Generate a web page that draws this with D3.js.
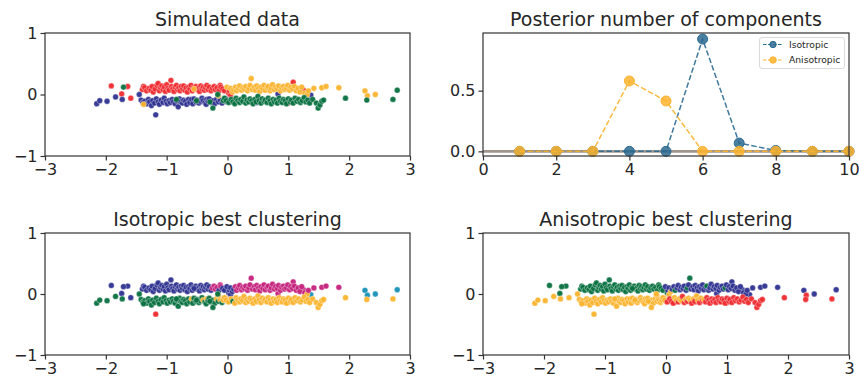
<!DOCTYPE html>
<html><head><meta charset="utf-8">
<script src="https://cdn.jsdelivr.net/npm/d3@7"></script>
<style>body{margin:0;background:#fff} text{font-family:"DejaVu Sans",sans-serif}</style>
</head><body><svg id="c" width="859" height="383"></svg>
<script>
// ---------- DATA ----------
// each point: [x, y, isotropic cluster, anisotropic cluster]
const redPts = [
 [-1.91,0.14,"b","g"],[-1.64,0.13,"b","g"],[-1.74,0.01,"b","g"],[-1.59,-0.06,"b","o"],
 [-1.40,0.08,"b","g"],[-1.38,0.13,"b","g"],[-1.36,0.11,"b","g"],[-1.33,0.06,"b","g"],[-1.29,0.10,"b","g"],
 [-1.26,0.07,"b","g"],[-1.24,0.13,"b","g"],[-1.22,0.04,"b","g"],[-1.19,0.09,"b","g"],[-1.16,0.15,"b","g"],
 [-1.14,0.18,"b","g"],[-1.12,0.06,"b","g"],[-1.10,0.11,"b","g"],[-1.08,0.14,"b","g"],[-1.06,0.08,"b","g"],
 [-1.04,0.12,"b","g"],[-1.02,0.05,"b","g"],[-1.00,0.16,"b","g"],[-0.98,0.10,"b","g"],[-0.96,0.07,"b","g"],
 [-0.93,0.23,"b","g"],[-0.92,0.13,"b","g"],[-0.90,0.09,"b","g"],[-0.88,0.05,"b","g"],[-0.86,0.12,"b","g"],
 [-0.84,0.15,"b","g"],[-0.82,0.08,"b","g"],[-0.80,0.11,"b","g"],[-0.78,0.06,"b","g"],[-0.76,0.13,"b","g"],
 [-0.74,0.09,"b","g"],[-0.72,0.14,"b","g"],[-0.70,0.07,"b","g"],[-0.68,0.11,"b","g"],[-0.66,0.04,"b","g"],
 [-0.64,0.12,"b","g"],[-0.62,0.09,"b","g"],[-0.60,0.15,"b","g"],[-0.58,0.06,"b","g"],[-0.56,0.11,"b","g"],
 [-0.52,0.13,"b","g"],[-0.50,0.08,"b","g"],[-0.48,0.10,"b","g"],[-0.46,0.05,"b","g"],[-0.44,0.14,"b","g"],
 [-0.42,0.09,"b","g"],[-0.40,0.12,"b","g"],[-0.38,0.07,"b","g"],[-0.36,0.11,"b","g"],[-0.34,0.15,"b","g"],
 [-0.32,0.08,"b","g"],[-0.30,0.12,"b","g"],[-0.27,0.06,"b","g"],[-0.25,0.10,"m","g"],[-0.22,0.13,"m","g"],
 [-0.20,0.08,"m","g"],[-0.17,0.11,"m","g"],[-0.14,0.06,"b","g"],[-0.12,0.15,"m","g"],[-0.11,0.12,"m","g"],
 [-0.08,0.09,"b","g"],[-0.05,0.06,"b","g"],[0.02,0.02,"b","g"],[0.03,0.06,"b","b"],[0.05,-0.01,"b","o"],
 [1.08,0.20,"m","b"],[1.25,0.07,"m","b"],[1.00,-0.14,"o","r"]
];
const bluePts = [
 [-2.15,-0.15,"g","o"],[-2.10,-0.10,"g","o"],[-1.98,-0.11,"g","o"],[-1.84,-0.04,"g","o"],[-1.73,-0.08,"g","o"],
 [-1.45,0.00,"g","o"],[-1.18,-0.33,"r","o"],
 [-1.42,-0.09,"g","o"],[-1.39,-0.13,"g","o"],[-1.36,-0.11,"g","o"],[-1.33,-0.15,"g","o"],[-1.30,-0.08,"g","o"],
 [-1.28,-0.12,"g","o"],[-1.25,-0.18,"g","o"],[-1.23,-0.10,"g","o"],[-1.20,-0.14,"g","o"],[-1.17,-0.07,"g","o"],
 [-1.14,-0.12,"g","o"],[-1.12,-0.16,"g","o"],[-1.09,-0.09,"g","o"],[-1.06,-0.13,"g","o"],[-1.04,-0.06,"g","o"],
 [-1.01,-0.11,"g","o"],[-0.99,-0.15,"g","o"],[-0.96,-0.10,"g","o"],[-0.94,-0.13,"g","o"],[-0.91,-0.08,"g","o"],
 [-0.89,-0.12,"g","o"],[-0.86,-0.15,"g","o"],[-0.84,-0.10,"g","o"],[-0.81,-0.20,"g","o"],[-0.79,-0.07,"g","o"],
 [-0.77,-0.12,"g","o"],[-0.74,-0.14,"g","o"],[-0.72,-0.09,"g","o"],[-0.69,-0.11,"g","o"],[-0.67,-0.16,"g","o"],
 [-0.64,-0.08,"g","o"],[-0.62,-0.13,"g","o"],[-0.59,-0.08,"o","o"],[-0.57,-0.15,"g","o"],[-0.55,-0.07,"g","o"],
 [-0.52,-0.12,"g","o"],[-0.50,-0.09,"g","o"],[-0.47,-0.14,"g","o"],[-0.45,-0.11,"g","o"],[-0.42,-0.06,"g","o"],
 [-0.40,-0.10,"o","o"],[-0.37,-0.13,"g","o"],[-0.34,-0.08,"o","o"],[-0.35,-0.16,"g","o"],[-0.32,-0.11,"g","o"],
 [-0.30,-0.07,"g","o"],[-0.27,-0.13,"g","o"],[-0.24,-0.10,"g","o"],[-0.21,-0.15,"g","o"],[-0.18,-0.08,"o","o"],
 [-0.15,-0.12,"g","o"],[-0.12,-0.09,"o","o"],[-0.09,-0.14,"g","o"],[-0.06,-0.10,"o","o"],[-0.03,-0.07,"o","o"],
 [0.00,-0.12,"o","o"],[0.48,-0.13,"o","r"],[0.83,0.01,"m","b"],[1.37,-0.01,"c","b"]
];
const orangePts = [
 [-0.01,0.12,"b","b"],[0.05,0.10,"b","b"],[0.08,0.04,"b","o"],[0.10,0.08,"b","b"],[0.13,0.12,"m","b"],
 [0.15,0.06,"m","g"],[0.18,0.10,"m","b"],[0.20,0.14,"m","b"],[0.23,0.07,"m","b"],[0.25,0.11,"m","b"],
 [0.28,0.09,"m","b"],[0.30,0.13,"m","b"],[0.33,0.06,"m","b"],[0.35,0.10,"m","g"],[0.37,0.15,"m","b"],
 [0.39,0.26,"m","g"],[0.41,0.08,"m","b"],[0.44,0.12,"m","b"],[0.46,0.07,"m","b"],[0.48,0.14,"m","b"],
 [0.51,0.10,"m","b"],[0.53,0.05,"m","b"],[0.55,0.12,"m","b"],[0.58,0.09,"m","b"],[0.60,0.15,"m","b"],
 [0.62,0.07,"m","b"],[0.65,0.11,"m","b"],[0.67,0.13,"m","g"],[0.70,0.06,"m","b"],[0.72,0.10,"m","b"],
 [0.74,0.16,"m","b"],[0.77,0.08,"m","b"],[0.79,0.12,"m","b"],[0.82,0.09,"m","b"],[0.84,0.14,"m","b"],
 [0.87,0.06,"m","b"],[0.89,0.11,"m","b"],[0.92,0.13,"m","b"],[0.94,0.08,"m","b"],[0.97,0.10,"m","g"],
 [0.99,0.15,"m","b"],[1.02,0.07,"m","b"],[1.04,0.12,"m","b"],[1.07,0.09,"m","b"],[1.10,0.13,"m","b"],
 [1.13,0.06,"m","b"],[1.16,0.10,"m","b"],[1.19,0.04,"m","b"],[1.22,0.12,"m","b"],[1.27,0.02,"m","b"],
 [1.31,0.00,"o","b"],[1.33,0.06,"m","b"],[1.42,0.10,"m","b"],[1.55,0.11,"m","b"],[1.62,0.13,"m","b"],
 [1.83,0.11,"m","b"],[2.26,0.06,"c","b"],[2.30,-0.02,"c","r"],[2.43,0.00,"c","b"],
 [-0.55,0.09,"b","g"],[-1.38,-0.16,"g","o"],[-0.15,-0.02,"o","o"]
];
const greenPts = [
 [-1.71,0.12,"b","g"],[-0.84,-0.08,"g","o"],[-0.51,-0.10,"g","o"],[-0.29,-0.12,"g","o"],[-0.24,-0.22,"g","o"],
 [-0.16,0.00,"g","o"],[-0.07,-0.10,"o","o"],
 [-0.05,-0.06,"o","o"],[-0.02,-0.10,"o","o"],[0.02,-0.13,"o","r"],[0.06,-0.08,"o","r"],[0.09,-0.12,"g","r"],
 [0.12,-0.15,"o","r"],[0.14,-0.06,"o","o"],[0.17,-0.10,"o","o"],[0.20,-0.13,"o","r"],[0.22,-0.08,"o","o"],
 [0.25,-0.11,"o","o"],[0.27,-0.04,"o","r"],[0.30,-0.14,"o","r"],[0.32,-0.09,"o","o"],[0.35,-0.12,"o","r"],
 [0.37,-0.07,"o","o"],[0.40,-0.10,"o","o"],[0.42,-0.15,"o","r"],[0.45,-0.08,"o","o"],[0.47,-0.12,"o","r"],
 [0.50,-0.03,"o","o"],[0.52,-0.10,"o","o"],[0.55,-0.14,"o","r"],[0.57,-0.07,"o","o"],[0.60,-0.11,"o","r"],
 [0.62,-0.09,"o","o"],[0.65,-0.13,"o","r"],[0.67,-0.06,"o","r"],[0.70,-0.10,"o","r"],[0.72,-0.15,"o","r"],
 [0.75,-0.08,"o","r"],[0.77,-0.12,"o","r"],[0.80,-0.09,"o","r"],[0.82,-0.14,"o","r"],[0.85,-0.06,"o","r"],
 [0.87,-0.11,"o","r"],[0.90,-0.13,"o","r"],[0.92,-0.08,"o","r"],[0.95,-0.10,"o","r"],[0.97,-0.15,"o","r"],
 [1.00,-0.07,"o","r"],[1.03,-0.12,"o","r"],[1.05,-0.09,"o","r"],[1.08,-0.14,"o","r"],[1.11,-0.06,"o","r"],
 [1.14,-0.11,"o","r"],[1.17,-0.08,"o","r"],[1.20,-0.13,"o","r"],[1.23,-0.10,"o","r"],[1.26,-0.05,"o","r"],
 [1.29,-0.12,"o","r"],[1.32,-0.09,"o","r"],[1.35,-0.14,"o","r"],[1.40,-0.08,"o","r"],[1.46,-0.14,"o","r"],
 [1.49,-0.22,"o","r"],[1.52,-0.17,"o","r"],[1.55,-0.11,"o","r"],[1.58,-0.09,"o","r"],
 [1.94,-0.06,"o","r"],[2.29,-0.09,"o","r"],[2.72,-0.08,"o","r"],[2.79,0.07,"c","b"]
];
const trueClusters = [["r", redPts], ["b", bluePts], ["o", orangePts], ["g", greenPts]];
const palette = {r:"#ee2a2e", b:"#2e3190", g:"#06703f", o:"#fbb32d", m:"#c4217b", c:"#1490b6"};

const components = [1,2,3,4,5,6,7,8,9,10];
const isotropicProb = [0,0,0,0,0,0.925,0.068,0.007,0,0];
const anisotropicProb = [0,0,0,0.58,0.415,0,0,0,0,0];
const seriesNames = ["Isotropic", "Anisotropic"];
const seriesColors = ["#2b6a91", "#fbb32d"];

const scatterXTicks = [-3,-2,-1,0,1,2,3];
const scatterYTicks = [-1,0,1];
const postXTicks = [0,2,4,6,8,10];
const postYTicks = [0,0.5];
const titles = ["Simulated data", "Posterior number of components", "Isotropic best clustering", "Anisotropic best clustering"];

// ---------- DRAW ----------
const svg = d3.select("#c");
const spine = "#333333", tickTxt = "#262626";
const panels = [
  {l:45, r:410, t:33, b:156},
  {l:483, r:849, t:33, b:156},
  {l:45, r:410, t:233, b:355},
  {l:483, r:849, t:233, b:355}
];

function frame(p, x, y, xt, yt, fmt, title) {
  const g = svg.append("g");
  const ax = g.append("g").attr("transform", `translate(0,${p.b})`)
    .call(d3.axisBottom(x).tickValues(xt).tickSize(4.5).tickPadding(3).tickFormat(fmt.x));
  const ay = g.append("g").attr("transform", `translate(${p.l},0)`)
    .call(d3.axisLeft(y).tickValues(yt).tickSize(4.5).tickPadding(3).tickFormat(fmt.y));
  [ax, ay].forEach(a => {
    a.select(".domain").remove();
    a.selectAll(".tick line").attr("stroke", spine).attr("stroke-width", 1.2);
    a.selectAll(".tick text").attr("fill", tickTxt).style("font-size", "16px").style("font-family", "DejaVu Sans");
  });
  g.append("rect").attr("x", p.l).attr("y", p.t).attr("width", p.r - p.l).attr("height", p.b - p.t)
    .attr("fill", "none").attr("stroke", spine).attr("stroke-width", 1.2);
  svg.append("text").attr("x", (p.l + p.r) / 2).attr("y", p.t - 7).attr("text-anchor", "middle")
    .attr("fill", tickTxt).style("font-size", "19px").text(title);
  return g;
}

function scatterPanel(p, title, labelIdx) {
  const x = d3.scaleLinear().domain([-3, 3]).range([p.l, p.r]);
  const y = d3.scaleLinear().domain([-1, 1]).range([p.b, p.t]);
  const g = svg.append("g");
  trueClusters.forEach(([code, pts]) => {
    g.selectAll(null).data(pts).enter().append("circle")
      .attr("cx", d => x(d[0])).attr("cy", d => y(d[1])).attr("r", 2.9)
      .attr("fill", d => palette[labelIdx === 0 ? code : d[labelIdx + 1]])
      .attr("stroke", "#fff").attr("stroke-width", 0.35).attr("fill-opacity", 0.95);
  });
  frame(p, x, y, scatterXTicks, scatterYTicks, {x: d3.format("d"), y: d3.format("d")}, title);
}

scatterPanel(panels[0], titles[0], 0);
scatterPanel(panels[2], titles[2], 1);
scatterPanel(panels[3], titles[3], 2);

// posterior panel
(function () {
  const p = panels[1];
  const x = d3.scaleLinear().domain([0, 10]).range([p.l, p.r]);
  const y = d3.scaleLinear().domain([-0.0465, 0.975]).range([p.b + 1, p.t]);
  const g = svg.append("g");
  g.append("line").attr("x1", p.l).attr("x2", p.r).attr("y1", y(0)).attr("y2", y(0))
    .attr("stroke", "#a2958d").attr("stroke-width", 2.6);
  const series = [isotropicProb, anisotropicProb];
  series.forEach((vals, i) => {
    const data = components.map((c, j) => [c, vals[j]]);
    g.append("path").datum(data)
      .attr("d", d3.line().x(d => x(d[0])).y(d => y(d[1])))
      .attr("fill", "none").attr("stroke", seriesColors[i]).attr("stroke-width", 1.5)
      .attr("stroke-dasharray", "5.5,2.4").attr("opacity", 0.9);
    g.selectAll(null).data(data).enter().append("circle")
      .attr("cx", d => x(d[0])).attr("cy", d => y(d[1])).attr("r", 5)
      .attr("fill", seriesColors[i]).attr("fill-opacity", 0.85)
      .attr("stroke", seriesColors[i]).attr("stroke-width", 1);
  });
  frame(p, x, y, postXTicks, postYTicks, {x: d3.format("d"), y: d3.format(".1f")}, titles[1]);
  // legend
  const lg = svg.append("g");
  lg.append("rect").attr("x", 759.5).attr("y", 37.5).attr("width", 85).attr("height", 31).attr("rx", 2.5)
    .attr("fill", "#fff").attr("fill-opacity", 0.8).attr("stroke", "#d0d0d0").attr("stroke-width", 0.8);
  seriesNames.forEach((name, i) => {
    const yy = 44.5 + i * 15.5;
    lg.append("line").attr("x1", 763).attr("x2", 783).attr("y1", yy).attr("y2", yy)
      .attr("stroke", seriesColors[i]).attr("stroke-width", 1.2).attr("stroke-dasharray", "3.5,1.5");
    lg.append("circle").attr("cx", 773).attr("cy", yy).attr("r", 3.2)
      .attr("fill", seriesColors[i]).attr("fill-opacity", 0.85).attr("stroke", seriesColors[i]);
    lg.append("text").attr("x", 789).attr("y", yy + 3.3).attr("fill", tickTxt)
      .style("font-size", "9.2px").text(name);
  });
})();
</script></body></html>
